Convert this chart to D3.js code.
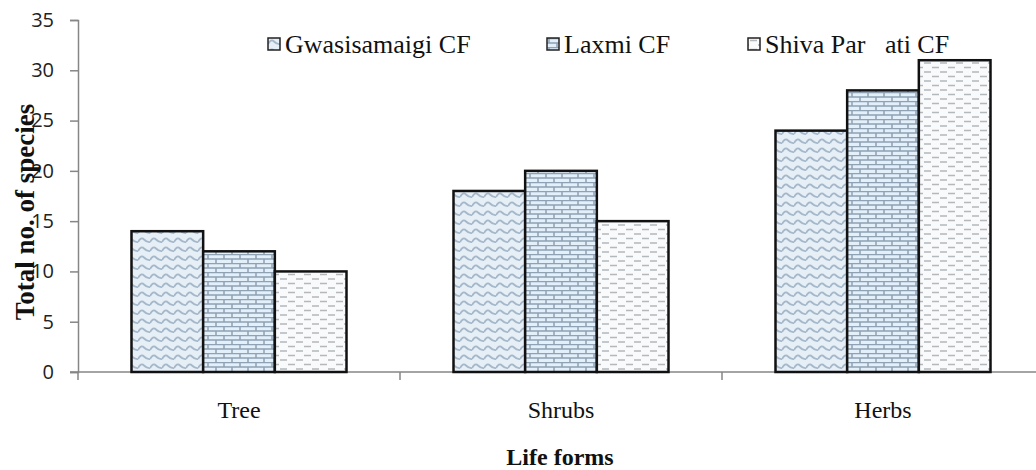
<!DOCTYPE html>
<html>
<head>
<meta charset="utf-8">
<script src="https://cdn.jsdelivr.net/npm/d3@7"></script>
<style>
  body { margin: 0; background: #fff; }
  svg { display: block; }
</style>
</head>
<body>
<div id="chart"></div>
<script>
// data
const categories = ["Tree", "Shrubs", "Herbs"];
const seriesNames = ["Gwasisamaigi CF", "Laxmi CF", "Shiva Par\u00A0\u00A0\u00A0ati CF"];
const gwasisamaigi = [14, 18, 24];
const laxmi = [12, 20, 28];
const shivaParvati = [10, 15, 31];
const yTicks = [0, 5, 10, 15, 20, 25, 30, 35];

const seriesValues = [gwasisamaigi, laxmi, shivaParvati];
const patternIds = ["pWave", "pBrick", "pDash"];

const serif = "Liberation Serif, Times New Roman, serif";
const sans = "Open Sans, Liberation Sans, sans-serif";

const width = 1036, height = 470;
const margin = {top: 20, right: -8, bottom: 98, left: 78};
const innerW = width - margin.left - margin.right;
const innerH = height - margin.top - margin.bottom;

const svg = d3.select("#chart").append("svg")
    .attr("width", width)
    .attr("height", height);

// fill patterns
const defs = svg.append("defs");

const wave = defs.append("pattern").attr("id", "pWave")
    .attr("patternUnits", "userSpaceOnUse").attr("width", 12).attr("height", 9);
wave.append("rect").attr("width", 12).attr("height", 9).attr("fill", "#e6eef6");
wave.append("path").attr("d", "M0,6 Q3,0.5 6,3.5 T12,6")
    .attr("fill", "none").attr("stroke", "#a5b8ca").attr("stroke-width", 1.8);

const brick = defs.append("pattern").attr("id", "pBrick")
    .attr("patternUnits", "userSpaceOnUse").attr("width", 16).attr("height", 9);
brick.append("rect").attr("width", 16).attr("height", 9).attr("fill", "#e3f0fa");
brick.append("path").attr("d", "M0,0.5H16M0,5H16M2,0.5V5M10,5V9")
    .attr("fill", "none").attr("stroke", "#8ea2b4").attr("stroke-width", 1.5);

const dash = defs.append("pattern").attr("id", "pDash")
    .attr("patternUnits", "userSpaceOnUse").attr("width", 16).attr("height", 9);
dash.append("rect").attr("width", 16).attr("height", 9).attr("fill", "#f8fafc");
dash.append("path").attr("d", "M2,2.5H9M10,7H16M0,7H1")
    .attr("fill", "none").attr("stroke", "#b5b8bb").attr("stroke-width", 1.6);

const chart = svg.append("g")
    .attr("transform", `translate(${margin.left},${margin.top})`);

// scales
const xScale = d3.scaleBand().domain(categories).range([0, innerW]);
const xInner = d3.scaleBand().domain(d3.range(seriesNames.length))
    .range([53.5, xScale.bandwidth() - 53.5]);
const yScale = d3.scaleLinear().domain([0, 35]).range([innerH, 0]);

// y axis
const yAxis = d3.axisLeft(yScale).tickValues(yTicks).tickSize(8).tickSizeOuter(8);
const yAxisG = chart.append("g").attr("class", "axis y-axis").call(yAxis)
    .attr("font-family", sans)
    .attr("font-size", 20);
yAxisG.select(".domain").attr("stroke", "#868686").attr("stroke-width", 1.5);
yAxisG.selectAll(".tick line").attr("stroke", "#868686").attr("stroke-width", 1.5);
yAxisG.selectAll(".tick text")
    .attr("x", -24)
    .attr("fill", "#222");

// x axis line with boundary ticks
const xAxisG = chart.append("g").attr("class", "axis x-axis")
    .attr("transform", `translate(0,${innerH})`);
xAxisG.append("line").attr("x1", -8).attr("x2", innerW)
    .attr("stroke", "#868686").attr("stroke-width", 1.5);
xAxisG.selectAll(".xtick")
    .data(categories.map(c => xScale(c)).concat([innerW]))
    .join("line")
    .attr("class", "xtick")
    .attr("x1", d => d).attr("x2", d => d)
    .attr("y1", 0).attr("y2", 8)
    .attr("stroke", "#868686").attr("stroke-width", 1.5);
xAxisG.selectAll(".xlabel")
    .data(categories)
    .join("text")
    .attr("class", "xlabel")
    .attr("x", d => xScale(d) + xScale.bandwidth() / 2)
    .attr("y", 46)
    .attr("text-anchor", "middle")
    .attr("font-family", serif)
    .attr("font-size", 24)
    .attr("fill", "#111")
    .text(d => d);

// bars
const groups = chart.selectAll(".group")
    .data(categories)
    .join("g")
    .attr("class", "group")
    .attr("transform", d => `translate(${xScale(d)},0)`);

groups.selectAll("rect")
    .data((c, ci) => seriesValues.map((vals, si) => ({si, v: vals[ci]})))
    .join("rect")
    .attr("x", d => xInner(d.si))
    .attr("width", xInner.bandwidth())
    .attr("y", d => yScale(d.v))
    .attr("height", d => innerH - yScale(d.v))
    .attr("fill", d => `url(#${patternIds[d.si]})`)
    .attr("stroke", "#111")
    .attr("stroke-width", 2.5);

// axis titles
svg.append("text")
    .attr("transform", `translate(34,212) rotate(-90)`)
    .attr("text-anchor", "middle")
    .attr("font-family", serif)
    .attr("font-size", 27)
    .attr("font-weight", "bold")
    .attr("fill", "#111")
    .text("Total no. of species");

svg.append("text")
    .attr("x", 560)
    .attr("y", 465)
    .attr("text-anchor", "middle")
    .attr("font-family", serif)
    .attr("font-size", 24)
    .attr("font-weight", "bold")
    .attr("fill", "#111")
    .text("Life forms");

// legend
const legendX = [268, 547, 748];
const legend = svg.append("g").attr("class", "legend");
const items = legend.selectAll("g")
    .data(seriesNames)
    .join("g")
    .attr("transform", (d, i) => `translate(${legendX[i]},38)`);
items.append("rect")
    .attr("width", 12).attr("height", 12)
    .attr("fill", (d, i) => `url(#${patternIds[i]})`)
    .attr("stroke", "#222").attr("stroke-width", 1.5);
items.append("text")
    .attr("x", 17)
    .attr("y", 15)
    .attr("font-family", serif)
    .attr("font-size", 26)
    .attr("fill", "#111")
    .text(d => d);
</script>
</body>
</html>
